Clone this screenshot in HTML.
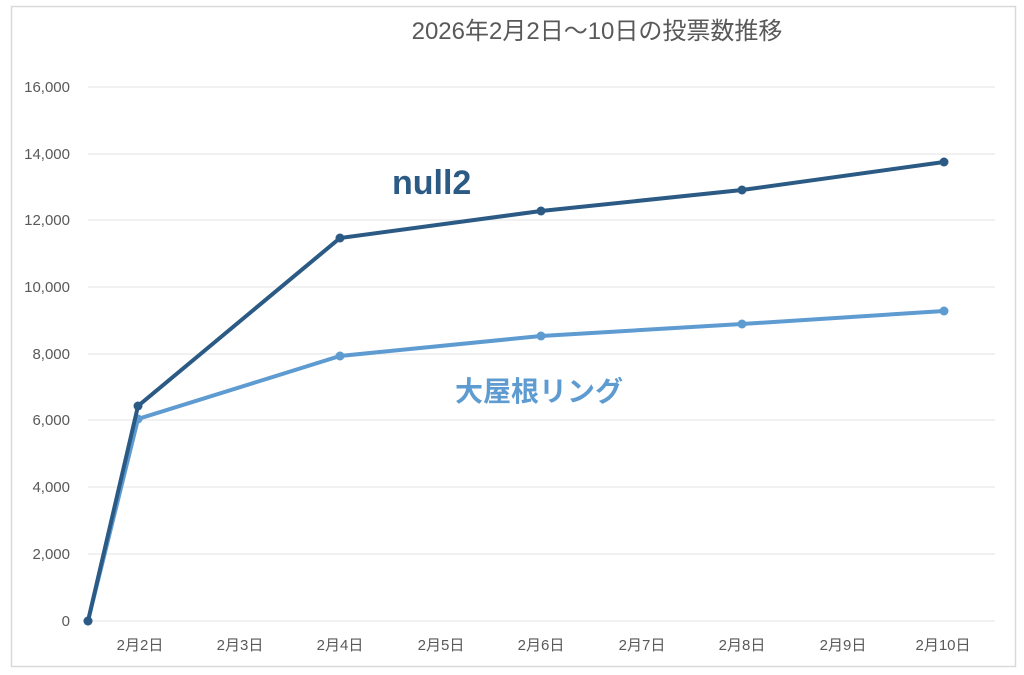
<!DOCTYPE html>
<html><head><meta charset="utf-8"><style>
body{margin:0;background:#fff;width:1024px;height:670px;overflow:hidden}
svg text{font-family:"Liberation Sans","Noto Sans CJK JP",sans-serif}
</style></head><body>
<svg width="1024" height="670" xmlns="http://www.w3.org/2000/svg">
<rect x="11.5" y="6.5" width="1004" height="660" fill="#fff" stroke="#d9d9d9" stroke-width="1.5"/>
<text x="597" y="39" font-size="24" fill="#595959" text-anchor="middle">2026年2月2日～10日の投票数推移</text>
<g stroke="#e3e3e3" stroke-width="1">
<line x1="88" x2="995" y1="87" y2="87"/><line x1="88" x2="995" y1="154" y2="154"/>
<line x1="88" x2="995" y1="220" y2="220"/><line x1="88" x2="995" y1="287" y2="287"/>
<line x1="88" x2="995" y1="354" y2="354"/><line x1="88" x2="995" y1="420" y2="420"/>
<line x1="88" x2="995" y1="487" y2="487"/><line x1="88" x2="995" y1="554" y2="554"/>
<line x1="88" x2="995" y1="621" y2="621"/>
</g>
<g font-size="15" fill="#595959" text-anchor="end">
<text x="70" y="92">16,000</text><text x="70" y="159">14,000</text><text x="70" y="225">12,000</text>
<text x="70" y="292">10,000</text><text x="70" y="359">8,000</text><text x="70" y="425">6,000</text>
<text x="70" y="492">4,000</text><text x="70" y="559">2,000</text><text x="70" y="626">0</text>
</g>
<g font-size="15" fill="#595959" text-anchor="middle">
<text x="140" y="650">2月2日</text><text x="240" y="650">2月3日</text><text x="340" y="650">2月4日</text>
<text x="441" y="650">2月5日</text><text x="541" y="650">2月6日</text><text x="642" y="650">2月7日</text>
<text x="742" y="650">2月8日</text><text x="843" y="650">2月9日</text><text x="943" y="650">2月10日</text>
</g>
<polyline fill="none" stroke="#5e9bd1" stroke-width="4" points="88,621 138,419 340,356 541,336 742,324 944,311"/>
<g fill="#5e9bd1"><circle cx="88" cy="621" r="4.5"/><circle cx="138" cy="419" r="4.5"/><circle cx="340" cy="356" r="4.5"/><circle cx="541" cy="336" r="4.5"/><circle cx="742" cy="324" r="4.5"/><circle cx="944" cy="311" r="4.5"/></g>
<polyline fill="none" stroke="#2b5a85" stroke-width="4" points="88,621 138,406 340,238 541,211 742,190 944,162"/>
<g fill="#2b5a85"><circle cx="88" cy="621" r="4.5"/><circle cx="138" cy="406" r="4.5"/><circle cx="340" cy="238" r="4.5"/><circle cx="541" cy="211" r="4.5"/><circle cx="742" cy="190" r="4.5"/><circle cx="944" cy="162" r="4.5"/></g>
<text x="392" y="194" font-size="34" font-weight="bold" fill="#2b5a85">null2</text>
<text x="455" y="401" font-size="28" font-weight="bold" fill="#5e9bd1">大屋根リング</text>
</svg>
</body></html>
